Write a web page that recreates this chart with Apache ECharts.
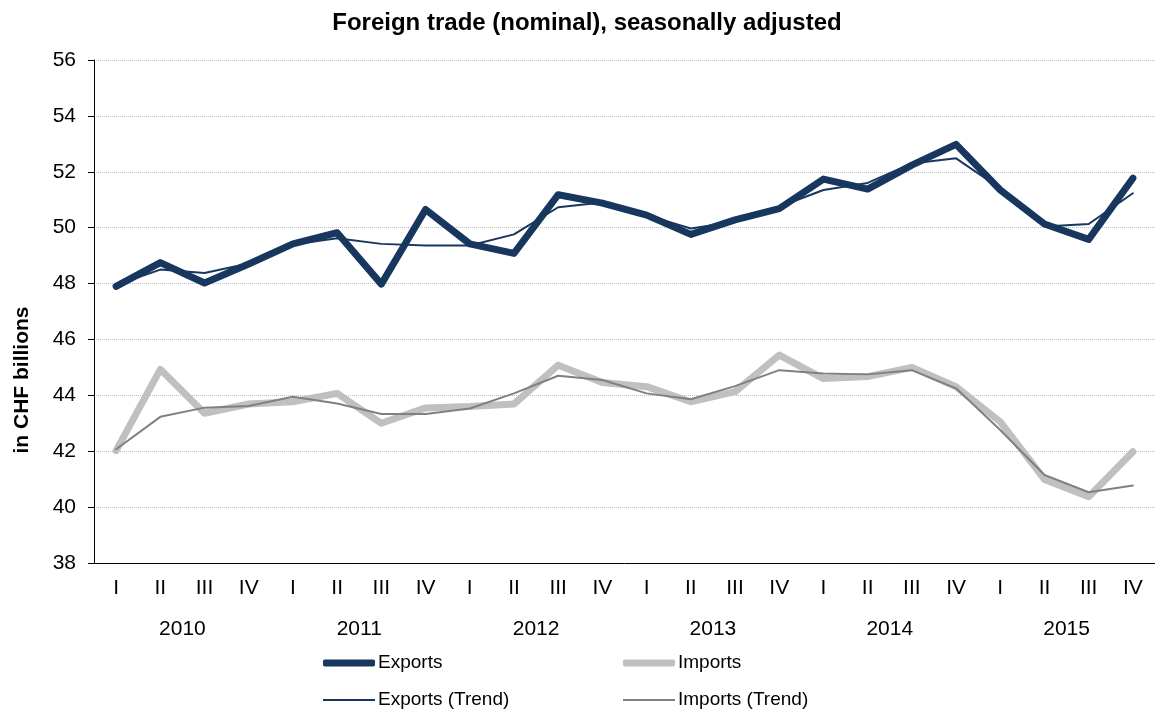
<!DOCTYPE html>
<html>
<head>
<meta charset="utf-8">
<script src="https://cdn.jsdelivr.net/npm/echarts@6/dist/echarts.min.js"></script>
<style>
  html, body { margin: 0; padding: 0; background: #fff; }
  #main { width: 1155px; height: 711px; }
</style>
</head>
<body>
<div id="main"></div>
<script>
// quarter / year labels
var quarters = [
  'I', 'II', 'III', 'IV', 'I', 'II', 'III', 'IV', 'I', 'II', 'III', 'IV',
  'I', 'II', 'III', 'IV', 'I', 'II', 'III', 'IV', 'I', 'II', 'III', 'IV'
];
var years = ['2010', '2011', '2012', '2013', '2014', '2015'];

// values in CHF billions
var exportsData = [47.9, 48.75, 48.02, 48.7, 49.42, 49.82, 47.98, 50.65,
  49.42, 49.08, 51.18, 50.88, 50.45, 49.76, 50.28, 50.68,
  51.74, 51.38, 52.24, 52.98, 51.35, 50.13, 49.58, 51.77];
var importsData = [42.02, 44.93, 43.36, 43.69, 43.77, 44.07, 43.0, 43.55,
  43.6, 43.69, 45.08, 44.46, 44.31, 43.77, 44.13, 45.44,
  44.6, 44.67, 45.0, 44.31, 43.05, 40.99, 40.37, 41.98];
var exportsTrend = [47.95, 48.5, 48.38, 48.72, 49.4, 49.62, 49.42, 49.36,
  49.36, 49.76, 50.73, 50.9, 50.45, 49.97, 50.21, 50.75,
  51.35, 51.6, 52.3, 52.48, 51.4, 50.04, 50.13, 51.23];
var importsTrend = [42.07, 43.23, 43.56, 43.62, 43.95, 43.71, 43.33, 43.33,
  43.53, 44.07, 44.7, 44.55, 44.07, 43.86, 44.33, 44.9,
  44.78, 44.75, 44.9, 44.25, 42.76, 41.15, 40.53, 40.77];

var font = 'Liberation Sans, Arial, sans-serif';
var navy = '#17375e';
var light = '#c0c0c0';
var grey = '#808080';

var myChart = echarts.init(document.getElementById('main'));

function line(name, data, color, width, z) {
  return {
    name: name,
    type: 'line',
    data: data,
    symbol: 'none',
    z: z,
    lineStyle: { color: color, width: width, cap: 'round', join: 'round' },
    itemStyle: { color: color }
  };
}

// one legend per entry so they sit in a 2x2 block like the original
function legendItem(name, left, top, color, thick) {
  return {
    left: left,
    top: top,
    padding: 0,
    data: [name],
    icon: thick ? 'roundRect' : 'rect',
    itemWidth: 52,
    itemHeight: thick ? 7 : 2,
    itemGap: 0,
    itemStyle: { color: color },
    textStyle: { fontFamily: font, fontSize: 19, color: '#000', lineHeight: 20, padding: [0, 0, 0, -2] }
  };
}

var option = {
  animation: false,
  backgroundColor: '#fff',
  title: {
    text: 'Foreign trade (nominal), seasonally adjusted',
    left: 582,
    top: 6,
    textAlign: 'center',
    textStyle: { fontFamily: font, fontSize: 24, fontWeight: 'bold', color: '#000' }
  },
  graphic: [{
    type: 'text',
    x: 22,
    y: 380,
    rotation: Math.PI / 2,
    style: {
      text: 'in CHF billions',
      font: 'bold 21px Liberation Sans, Arial, sans-serif',
      fill: '#000',
      textAlign: 'center',
      textVerticalAlign: 'middle'
    }
  }],
  legend: [
    legendItem('Exports', 323, 653, navy, true),
    legendItem('Imports', 623, 653, light, true),
    legendItem('Exports (Trend)', 323, 690, navy, false),
    legendItem('Imports (Trend)', 623, 690, grey, false)
  ],
  grid: { left: 94, top: 60, width: 1062, height: 503 },
  xAxis: [{
    type: 'category',
    data: quarters,
    boundaryGap: true,
    axisLine: { lineStyle: { color: '#000', width: 1 } },
    axisTick: { interval: 0, length: 39, lineStyle: { color: '#000' } },
    axisLabel: { interval: 0, margin: 15, fontFamily: font, fontSize: 21, color: '#000' }
  }, {
    type: 'category',
    data: years,
    position: 'bottom',
    offset: 39,
    boundaryGap: true,
    axisLine: { show: false },
    axisTick: { interval: 0, length: 38, lineStyle: { color: '#000' } },
    axisLabel: { interval: 0, margin: 17, fontFamily: font, fontSize: 21, color: '#000' }
  }],
  yAxis: {
    type: 'value',
    min: 38,
    max: 56,
    interval: 2,
    axisLine: { show: true, lineStyle: { color: '#000', width: 1 } },
    axisTick: { show: true, length: 6, lineStyle: { color: '#000' } },
    axisLabel: { margin: 18, fontFamily: font, fontSize: 21, color: '#000' },
    splitLine: { lineStyle: { color: '#bfbfbf', type: 'dotted', width: 1 } }
  },
  series: [
    line('Exports', exportsData, navy, 7, 3),
    line('Imports', importsData, light, 7, 2),
    line('Exports (Trend)', exportsTrend, navy, 2, 4),
    line('Imports (Trend)', importsTrend, grey, 2, 4)
  ]
};

myChart.setOption(option);
</script>
</body>
</html>
